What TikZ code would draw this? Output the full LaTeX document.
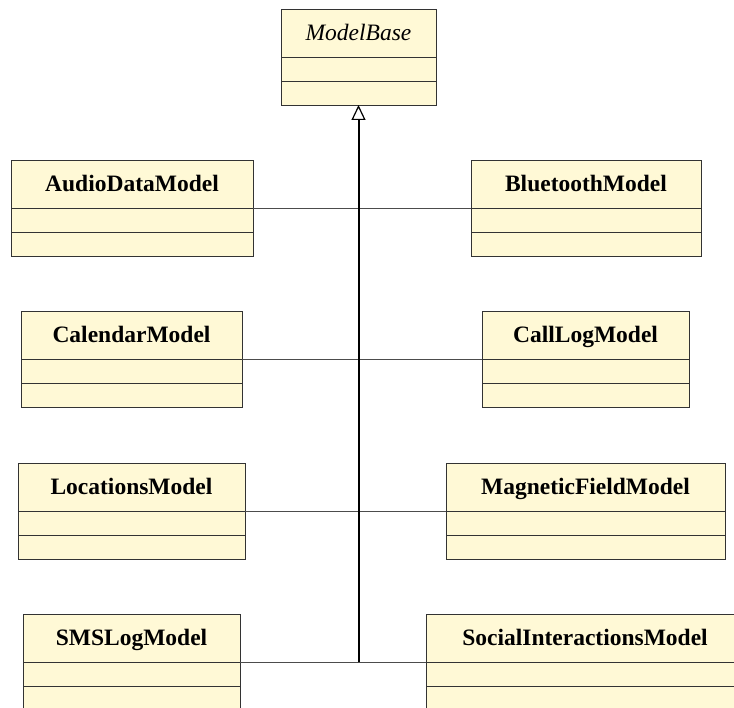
\documentclass[tikz,border=0pt]{standalone}
\usepackage{fontspec}
\setmainfont{Liberation Serif}
\usetikzlibrary{positioning,arrows.meta}
\definecolor{classfill}{RGB}{255,249,214}
\definecolor{classline}{RGB}{51,51,51}
\tikzset{
  classhead/.style={draw=classline, fill=classfill, line width=0.8pt, inner sep=0pt, outer sep=0pt,
    anchor=north west, minimum width=#1, minimum height=48pt, text height=16pt, text depth=1pt,
    font=\fontsize{23.5}{27}\selectfont\bfseries},
  classpart/.style={draw=classline, fill=classfill, line width=0.8pt, inner sep=0pt, outer sep=0pt,
    minimum width=#1, minimum height=24pt},
  link/.style={draw=black!70, line width=0.9pt},
  inherit/.style={line width=2pt, -{Triangle[open,width=14pt,length=15pt,line width=1.2pt]}}
}
\begin{document}
\begin{tikzpicture}[x=1pt,y=-1pt]
\useasboundingbox (0,0) rectangle (734,708);
\clip (0,0) rectangle (734,708);

% base class
\node[classhead=155pt, font=\fontsize{23.5}{27}\selectfont\itshape] (base) at (281,9) {ModelBase};
\node[classpart=155pt, below=0pt of base] (base2) {};
\node[classpart=155pt, below=0pt of base2] (base3) {};

% left column
\node[classhead=242pt] (audio) at (11,160) {AudioDataModel};
\node[classpart=242pt, below=0pt of audio] (audio2) {};
\node[classpart=242pt, below=0pt of audio2] {};

\node[classhead=221pt] (calendar) at (21,311) {CalendarModel};
\node[classpart=221pt, below=0pt of calendar] (calendar2) {};
\node[classpart=221pt, below=0pt of calendar2] {};

\node[classhead=227pt] (locations) at (18,463) {LocationsModel};
\node[classpart=227pt, below=0pt of locations] (locations2) {};
\node[classpart=227pt, below=0pt of locations2] {};

\node[classhead=217pt] (smslog) at (23,614) {SMSLogModel};
\node[classpart=217pt, below=0pt of smslog] (smslog2) {};
\node[classpart=217pt, below=0pt of smslog2] {};

% right column
\node[classhead=230pt] (bluetooth) at (471,160) {BluetoothModel};
\node[classpart=230pt, below=0pt of bluetooth] (bluetooth2) {};
\node[classpart=230pt, below=0pt of bluetooth2] {};

\node[classhead=207pt] (calllog) at (482,311) {CallLogModel};
\node[classpart=207pt, below=0pt of calllog] (calllog2) {};
\node[classpart=207pt, below=0pt of calllog2] {};

\node[classhead=279pt] (magnetic) at (446,463) {MagneticFieldModel};
\node[classpart=279pt, below=0pt of magnetic] (magnetic2) {};
\node[classpart=279pt, below=0pt of magnetic2] {};

\node[classhead=318pt] (social) at (426,614) {SocialInteractionsModel};
\node[classpart=318pt, below=0pt of social] (social2) {};
\node[classpart=318pt, below=0pt of social2] {};

% links
\draw[link] (audio.south east) -- (bluetooth.south west);
\draw[link] (calendar.south east) -- (calllog.south west);
\draw[link] (locations.south east) -- (magnetic.south west);
\draw[link] (smslog.south east) -- (social.south west);

\coordinate (hub) at (base3.south |- smslog.south east);
\draw[inherit] (hub) -- (base3.south);
\end{tikzpicture}
\end{document}
